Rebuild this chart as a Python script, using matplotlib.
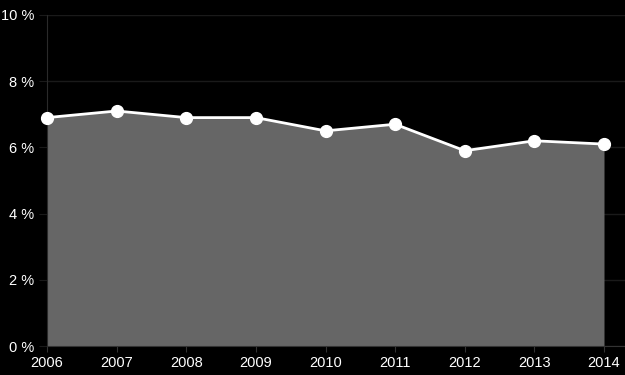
import matplotlib
matplotlib.use("Agg")
import matplotlib.pyplot as plt

years = [2006, 2007, 2008, 2009, 2010, 2011, 2012, 2013, 2014]
values = [6.9, 7.1, 6.9, 6.9, 6.5, 6.7, 5.9, 6.2, 6.1]
yticks = [0, 2, 4, 6, 8, 10]
ytick_labels = ["0 %", "2 %", "4 %", "6 %", "8 %", "10 %"]

plt.rcParams['font.family'] = ['Liberation Sans', 'DejaVu Sans']
fig = plt.figure(figsize=(6.25, 3.75), dpi=100, facecolor='black')
ax = fig.add_axes([47/625, 1-346/375, 1-47/625, (346-15)/375])
ax.set_facecolor('black')

ax.fill_between(years, values, 0, color='#666666', lw=0, zorder=2)
ax.plot(years, values, color='white', lw=2, marker='o', ms=8.5,
        markerfacecolor='white', markeredgecolor='white', zorder=5,
        clip_on=False)

ax.set_xlim(2006, 2006 + (625-47)/((604-47)/8))
ax.set_ylim(0, 10)
ax.set_yticks(yticks)
ax.set_yticklabels(ytick_labels)
ax.set_xticks(years)
ax.set_xticklabels([str(y) for y in years])
ax.grid(axis='y', color='#1a1a1a', lw=1, zorder=1)
for s in ['top', 'right']:
    ax.spines[s].set_visible(False)
ax.spines['left'].set_color('#2a2a2a')
ax.spines['bottom'].set_color('#333333')
ax.spines['left'].set_zorder(4)
ax.tick_params(axis='y', colors='white', labelsize=10.5, length=6, color='#1a1a1a', pad=3)
ax.tick_params(axis='x', colors='white', labelsize=10.5, length=4, color='#333333', pad=3)
for lbl in ax.get_xticklabels() + ax.get_yticklabels():
    lbl.set_color('white')

fig.savefig('out.png', dpi=100, facecolor='black')
